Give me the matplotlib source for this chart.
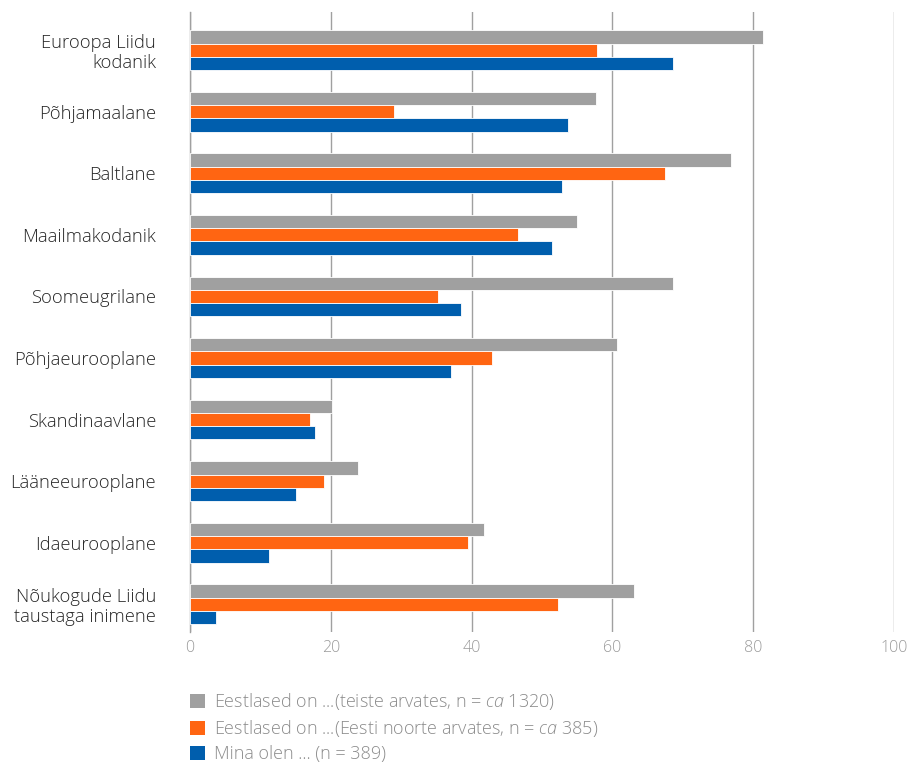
import matplotlib
matplotlib.use("Agg")
import matplotlib.pyplot as plt
from matplotlib.patches import Patch
import numpy as np

categories = [
    "Euroopa Liidu\nkodanik",
    "Põhjamaalane",
    "Baltlane",
    "Maailmakodanik",
    "Soomeugrilane",
    "Põhjaeurooplane",
    "Skandinaavlane",
    "Lääneeurooplane",
    "Idaeurooplane",
    "Nõukogude Liidu\ntaustaga inimene",
]
teiste_arvates = [81.4, 57.7, 76.8, 55.0, 68.6, 60.7, 20.2, 23.9, 41.8, 63.1]
noorte_arvates = [57.8, 29.0, 67.5, 46.6, 35.2, 42.9, 17.0, 19.0, 39.5, 52.3]
mina_olen = [68.6, 53.7, 52.8, 51.4, 38.5, 37.1, 17.8, 15.1, 11.2, 3.7]
x_ticks = [0, 20, 40, 60, 80, 100]

legend_labels = [
    r"Eestlased on ...(teiste arvates, n = $\it{ca}$ 1320)",
    r"Eestlased on ...(Eesti noorte arvates, n = $\it{ca}$ 385)",
    "Mina olen ... (n = 389)",
]
colors = ["#a0a0a0", "#ff6512", "#005ead"]

plt.rcParams["font.family"] = ["Open Sans", "DejaVu Sans"]
plt.rcParams["mathtext.fontset"] = "custom"
plt.rcParams["mathtext.it"] = "Open Sans:italic:light"
plt.rcParams["mathtext.rm"] = "Open Sans:light"

W, H = 916, 763
fig = plt.figure(figsize=(W / 100, H / 100), dpi=100)
ax = fig.add_axes([190 / W, 1 - 632 / H, (894 - 190) / W, (632 - 12) / H])

y = np.arange(len(categories))
h = 0.215
series = [teiste_arvates, noorte_arvates, mina_olen]
for i, (vals, c) in enumerate(zip(series, colors)):
    ax.barh(y + (i - 1) * h, vals, height=h, color=c,
            edgecolor="white", linewidth=0.6, zorder=3)

ax.set_xlim(0, 100)
ax.set_ylim(9.45, -0.62)
ax.set_xticks(x_ticks)
ax.set_xticklabels([str(t) for t in x_ticks], fontweight="light")
ax.set_yticks(y)
ax.set_yticklabels(categories, ha="right", multialignment="right",
                   fontweight="light", linespacing=1.15)
ax.grid(axis="x", color="#a0a0a0", linewidth=1.0, zorder=0)
for s in ["top", "right", "bottom"]:
    ax.spines[s].set_visible(False)
ax.spines["left"].set_color("#a0a0a0")
ax.spines["left"].set_linewidth(1.0)
ax.tick_params(axis="x", length=0, pad=6, labelsize=11.5, labelcolor="#9a9a9a")
ax.tick_params(axis="y", length=0, pad=24.5, labelsize=13.2, labelcolor="#262626")

handles = [Patch(facecolor=c, edgecolor="none") for c in colors]
leg = fig.legend(handles, legend_labels, loc="upper left",
                 bbox_to_anchor=(183 / W, 1 - 684 / H), frameon=False,
                 prop={"size": 13, "weight": "light"},
                 handlelength=0.8, handleheight=0.8,
                 handletextpad=0.5, labelspacing=0.33, borderaxespad=0)
for t in leg.get_texts():
    t.set_color("#8c8c8c")

fig.savefig("out.png", dpi=100)
